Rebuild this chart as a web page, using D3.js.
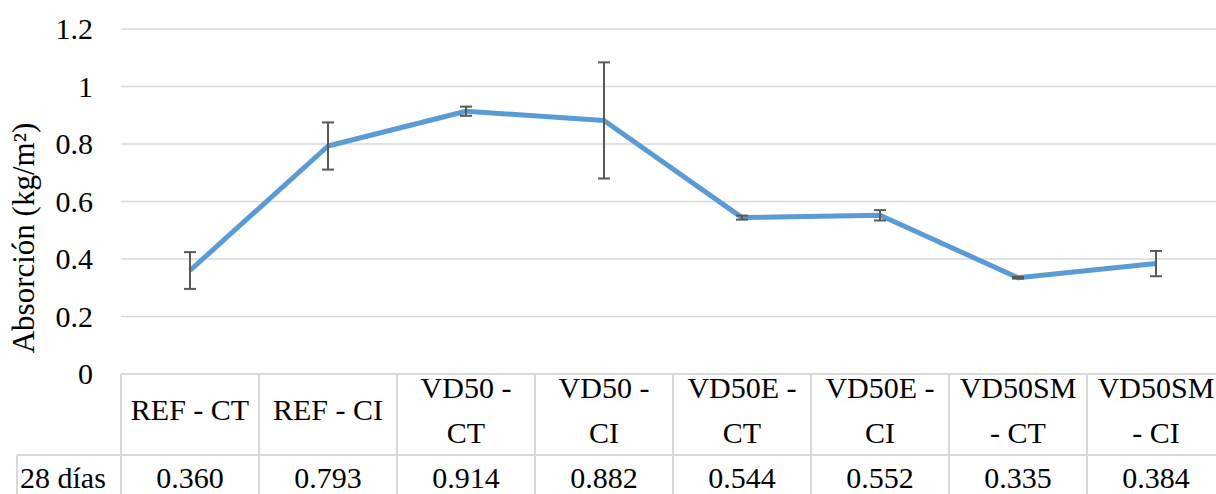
<!DOCTYPE html>
<html>
<head>
<meta charset="utf-8">
<script src="https://cdn.jsdelivr.net/npm/d3@7"></script>
<style>
  body { margin: 0; background: #fff; }
</style>
</head>
<body>
<div id="chart"></div>
<script>
var categories = ["REF - CT", "REF - CI", "VD50 - CT", "VD50 - CI", "VD50E - CT", "VD50E - CI", "VD50SM - CT", "VD50SM - CI"];
var headerLines = [["REF - CT"], ["REF - CI"], ["VD50 -", "CT"], ["VD50 -", "CI"], ["VD50E -", "CT"], ["VD50E -", "CI"], ["VD50SM", "- CT"], ["VD50SM", "- CI"]];
var values = [0.360, 0.793, 0.914, 0.882, 0.544, 0.552, 0.335, 0.384];
var errors = [0.064, 0.082, 0.016, 0.202, 0.007, 0.018, 0.003, 0.044];
var yTicks = [0, 0.2, 0.4, 0.6, 0.8, 1, 1.2];
var seriesName = "28 días";

var width = 1216, height = 494;
var FONT = "Liberation Serif";

var svg = d3.select("#chart").append("svg")
    .attr("width", width)
    .attr("height", height);

var x = d3.scaleBand()
    .domain(categories)
    .range([121, 1225])
    .padding(0);

var y = d3.scaleLinear()
    .domain([0, 1.2])
    .range([374, 29]);

// gridlines
svg.append("g")
    .selectAll("line")
    .data(yTicks)
    .enter()
    .append("line")
    .attr("x1", 121)
    .attr("x2", width)
    .attr("y1", function (d) { return y(d); })
    .attr("y2", function (d) { return y(d); })
    .attr("stroke", "#d9d9d9")
    .attr("stroke-width", 1.5);

// y tick labels
svg.append("g")
    .selectAll("text")
    .data(yTicks)
    .enter()
    .append("text")
    .attr("x", 93)
    .attr("y", function (d) { return y(d); })
    .attr("dy", "0.34em")
    .attr("text-anchor", "end")
    .attr("font-family", FONT)
    .style("font-size", "30px")
    .text(function (d) { return d; });

// y title
svg.append("text")
    .attr("transform", "translate(34,238) rotate(-90)")
    .attr("text-anchor", "middle")
    .attr("font-family", FONT)
    .style("font-size", "31px")
    .text("Absorción (kg/m²)");

// data table borders
var tb = svg.append("g").attr("stroke", "#d9d9d9").attr("stroke-width", 2);
tb.append("line").attr("x1", 121).attr("x2", 1225).attr("y1", 374).attr("y2", 374);
tb.append("line").attr("x1", 17).attr("x2", 1225).attr("y1", 455).attr("y2", 455);
tb.append("line").attr("x1", 17).attr("x2", 17).attr("y1", 455).attr("y2", height);
tb.selectAll(".vb")
    .data(categories)
    .enter()
    .append("line")
    .attr("class", "vb")
    .attr("x1", function (d) { return x(d); })
    .attr("x2", function (d) { return x(d); })
    .attr("y1", 374)
    .attr("y2", height);

// header labels
var hdr = svg.append("g")
    .selectAll("text")
    .data(categories)
    .enter()
    .append("text")
    .attr("text-anchor", "middle")
    .attr("font-family", FONT)
    .style("font-size", "30px");
hdr.each(function (d, i) {
    var lines = headerLines[i];
    var t = d3.select(this);
    var cx = x(d) + x.bandwidth() / 2;
    if (lines.length === 1) {
        t.append("tspan").attr("x", cx).attr("y", 420).text(lines[0]);
    } else {
        t.append("tspan").attr("x", cx).attr("y", 398).text(lines[0]);
        t.append("tspan").attr("x", cx).attr("y", 443).text(lines[1]);
    }
});

// value row
svg.append("text")
    .attr("x", 20)
    .attr("y", 488)
    .attr("font-family", FONT)
    .style("font-size", "30px")
    .text(seriesName);

svg.append("g")
    .selectAll("text")
    .data(values)
    .enter()
    .append("text")
    .attr("x", function (d, i) { return x(categories[i]) + x.bandwidth() / 2; })
    .attr("y", 488)
    .attr("text-anchor", "middle")
    .attr("font-family", FONT)
    .style("font-size", "30px")
    .text(function (d) { return d3.format(".3f")(d); });

// line
var line = d3.line()
    .x(function (d, i) { return x(categories[i]) + x.bandwidth() / 2; })
    .y(function (d) { return y(d); });

svg.append("path")
    .datum(values)
    .attr("fill", "none")
    .attr("stroke", "#5b9bd5")
    .attr("stroke-width", 5)
    .attr("stroke-linejoin", "round")
    .attr("d", line);

// error bars
var eb = svg.append("g").attr("stroke", "#595959").attr("stroke-width", 2);
values.forEach(function (v, i) {
    var cx = x(categories[i]) + x.bandwidth() / 2;
    var top = y(v + errors[i]), bot = y(v - errors[i]);
    eb.append("line").attr("x1", cx).attr("x2", cx).attr("y1", top).attr("y2", bot);
    eb.append("line").attr("x1", cx - 6).attr("x2", cx + 6).attr("y1", top).attr("y2", top);
    eb.append("line").attr("x1", cx - 6).attr("x2", cx + 6).attr("y1", bot).attr("y2", bot);
});
</script>
</body>
</html>
